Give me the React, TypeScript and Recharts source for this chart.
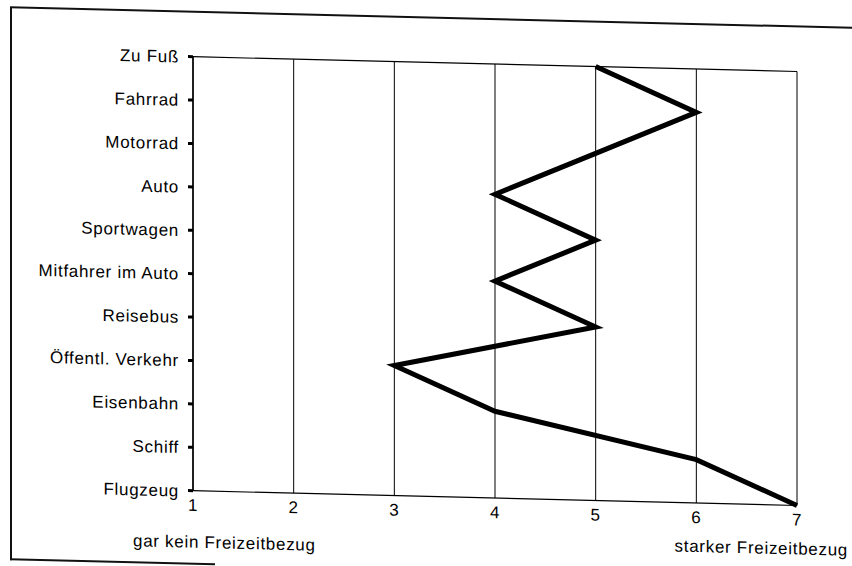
import { LineChart, Line, XAxis, YAxis, CartesianGrid, ReferenceLine } from "recharts";

const categories = [
  "Zu Fuß",
  "Fahrrad",
  "Motorrad",
  "Auto",
  "Sportwagen",
  "Mitfahrer im Auto",
  "Reisebus",
  "Öffentl. Verkehr",
  "Eisenbahn",
  "Schiff",
  "Flugzeug",
];
const scores = [5, 6, 5, 4, 5, 4, 5, 3, 4, 6, 7];
const xTicks = [1, 2, 3, 4, 5, 6, 7];
const leftLabel = "gar kein Freizeitbezug";
const rightLabel = "starker Freizeitbezug";

const data = categories.map((name, i) => ({ name, score: scores[i] }));

const font = "'Liberation Sans', Arial, sans-serif";
const tickStyle = { fontSize: 17, fill: "#000", fontFamily: font, letterSpacing: 0.7 };

export default function App() {
  return (
    <div
      style={{
        position: "absolute",
        left: 0,
        top: 0,
        width: 852,
        height: 566,
        background: "#fff",
        fontFamily: font,
        transform: "skewY(1.4deg)",
        transformOrigin: "0 0",
      }}
    >
      {/* scanned page frame */}
      <div style={{ position: "absolute", left: 10, top: 7, width: 2, height: 553, background: "#111" }} />
      <div style={{ position: "absolute", left: 10, top: 6, width: 842, height: 2, background: "#111" }} />
      <div style={{ position: "absolute", left: 10, top: 558, width: 205, height: 2, background: "#111" }} />

      <LineChart
        width={852}
        height={566}
        data={data}
        layout="vertical"
        margin={{ top: 52, right: 55, bottom: 50, left: 10 }}
      >
        <CartesianGrid horizontal={false} stroke="#000" strokeWidth={1} />
        <XAxis
          type="number"
          dataKey="score"
          domain={[1, 7]}
          ticks={xTicks}
          height={30}
          axisLine={{ stroke: "#000", strokeWidth: 1.2 }}
          tickLine={false}
          tickSize={6}
          tickMargin={2}
          tick={tickStyle}
        />
        <YAxis
          type="category"
          dataKey="name"
          width={183}
          interval={0}
          axisLine={{ stroke: "#000", strokeWidth: 1.5 }}
          tickLine={{ stroke: "#000", strokeWidth: 3 }}
          tickSize={5}
          tickMargin={9}
          tick={tickStyle}
        />
        <ReferenceLine y="Zu Fuß" stroke="#000" strokeWidth={1.2} />
        <Line
          type="linear"
          dataKey="score"
          stroke="#000"
          strokeWidth={5}
          dot={false}
          isAnimationActive={false}
        />
      </LineChart>

      <div style={{ position: "absolute", left: 133, top: 528, fontSize: 17, letterSpacing: 0.7, whiteSpace: "nowrap" }}>
        {leftLabel}
      </div>
      <div style={{ position: "absolute", right: 4, top: 520, fontSize: 17, letterSpacing: 0.7, whiteSpace: "nowrap" }}>
        {rightLabel}
      </div>
    </div>
  );
}
